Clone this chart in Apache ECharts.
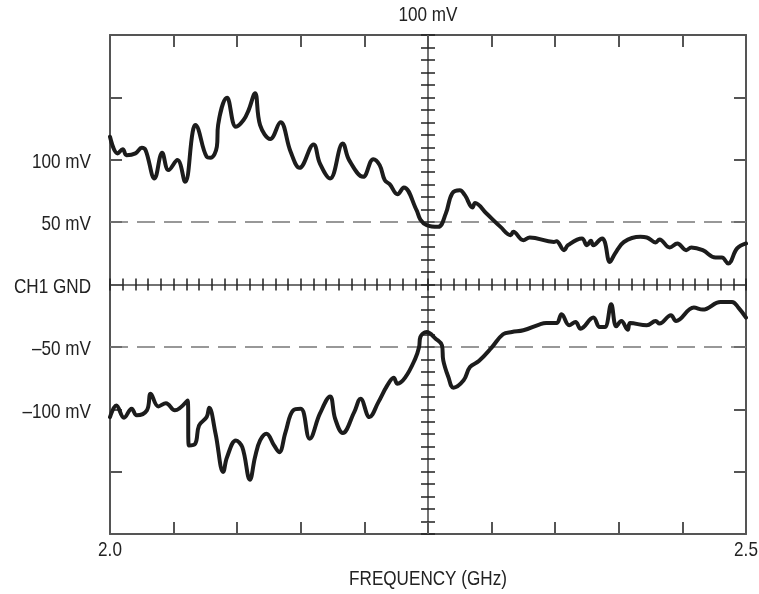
<!DOCTYPE html>
<html>
<head>
<meta charset="utf-8">
<script src="https://cdn.jsdelivr.net/npm/echarts@6/dist/echarts.min.js"></script>
<style>
html,body{margin:0;padding:0;background:#fff;}
#chart{width:759px;height:594px;}
</style>
</head>
<body>
<div id="chart"></div>
<script>
// Upper trace (CH1, positive half)
const upperFreq = [2.000, 2.006, 2.010, 2.013, 2.020, 2.025, 2.028, 2.035, 2.041, 2.046, 2.053, 2.059, 2.065, 2.067, 2.076, 2.079, 2.084, 2.085, 2.092, 2.099, 2.105, 2.109, 2.114, 2.118, 2.126, 2.134, 2.142, 2.149, 2.160, 2.165, 2.173, 2.183, 2.188, 2.199, 2.207, 2.212, 2.216, 2.220, 2.226, 2.231, 2.241, 2.244, 2.249, 2.258, 2.264, 2.269, 2.275, 2.279, 2.285, 2.287, 2.296, 2.307, 2.315, 2.317, 2.325, 2.330, 2.349, 2.351, 2.357, 2.360, 2.371, 2.375, 2.378, 2.380, 2.387, 2.389, 2.393, 2.397, 2.404, 2.417, 2.422, 2.429, 2.432, 2.440, 2.446, 2.453, 2.457, 2.466, 2.476, 2.481, 2.486, 2.493, 2.500];
const upperMv = [118.4, 105.1, 108.5, 103.7, 105.1, 109.6, 107.7, 85.0, 105.6, 91.7, 99.7, 82.3, 122.4, 127.8, 102.4, 101.6, 110.4, 127.8, 149.7, 126.4, 131.8, 139.8, 153.3, 127.8, 116.6, 130.0, 106.4, 93.5, 112.3, 97.1, 85.0, 113.1, 99.7, 86.3, 100.5, 95.7, 83.7, 80.2, 72.4, 77.8, 59.6, 52.1, 47.6, 46.2, 56.9, 73.0, 75.6, 71.6, 61.8, 65.4, 56.9, 46.2, 39.5, 42.2, 35.5, 37.7, 34.1, 34.7, 27.5, 31.5, 36.9, 31.5, 35.0, 31.5, 36.9, 34.1, 18.1, 24.8, 34.1, 38.2, 37.7, 33.7, 36.1, 29.7, 32.9, 27.5, 29.7, 27.5, 21.6, 21.6, 16.8, 28.9, 32.9];

// Lower trace (CH1, negative half)
const lowerFreq = [2.000, 2.005, 2.011, 2.017, 2.021, 2.029, 2.032, 2.038, 2.044, 2.051, 2.061, 2.062, 2.067, 2.070, 2.076, 2.078, 2.083, 2.089, 2.092, 2.099, 2.104, 2.110, 2.114, 2.118, 2.123, 2.129, 2.133, 2.138, 2.144, 2.150, 2.157, 2.165, 2.173, 2.177, 2.183, 2.192, 2.197, 2.204, 2.211, 2.218, 2.223, 2.226, 2.232, 2.240, 2.243, 2.244, 2.249, 2.256, 2.261, 2.262, 2.266, 2.270, 2.278, 2.283, 2.290, 2.300, 2.309, 2.316, 2.325, 2.338, 2.343, 2.351, 2.355, 2.361, 2.366, 2.370, 2.380, 2.385, 2.389, 2.394, 2.398, 2.402, 2.407, 2.409, 2.422, 2.429, 2.432, 2.441, 2.445, 2.459, 2.466, 2.480, 2.489, 2.494, 2.500];
const lowerMv = [-106.3, -96.9, -106.8, -99.6, -104.9, -100.9, -87.5, -97.7, -95.1, -100.9, -92.9, -129.0, -127.6, -113.0, -106.3, -98.8, -119.6, -150.4, -138.4, -125.0, -130.4, -156.5, -138.4, -125.0, -119.6, -129.0, -134.4, -118.3, -100.9, -99.6, -123.6, -103.6, -89.7, -107.6, -119.1, -102.3, -91.5, -106.3, -94.3, -80.9, -74.7, -79.5, -74.7, -59.4, -50.1, -42.1, -38.1, -43.4, -48.8, -60.8, -74.2, -82.7, -76.8, -66.2, -61.4, -50.6, -39.9, -38.1, -36.7, -31.9, -30.9, -30.9, -23.9, -32.7, -30.1, -35.4, -26.5, -34.1, -34.1, -15.9, -33.5, -29.3, -36.2, -30.9, -32.7, -29.3, -31.3, -24.7, -29.3, -18.5, -20.1, -14.0, -14.0, -18.5, -26.5];

// Axis ticks and labels
const xTickValues = [2.0, 2.5];
const xTickLabels = ['2.0', '2.5'];
const yTickValues = [100, 50, 0, -50, -100];
const yTickLabels = ['100 mV', '50 mV', 'CH1 GND', '\u201350 mV', '\u2013100 mV'];
const refLevels = [50, -50];
const topLabel = '100 mV';
const xTitle = 'FREQUENCY (GHz)';

const FONT_FAMILY = '"Liberation Sans", Arial, sans-serif';
const FONT = '21px ' + FONT_FAMILY;
const NARROW = 0.815;   // horizontal condensing of the label font
const TEXT_COLOR = '#222';
const FRAME = '#555';

const chart = echarts.init(document.getElementById('chart'), null, {renderer: 'canvas'});

const frameX = (pos) => ({
  type: 'value', position: pos, min: 2.0, max: 2.5, interval: 0.05,
  axisLine: {show: true, onZero: false, lineStyle: {color: FRAME, width: 2}},
  axisTick: {show: true, inside: true, length: 12, lineStyle: {color: FRAME, width: 2}},
  splitLine: {show: false},
  axisLabel: {show: false}
});

const frameY = (pos) => ({
  type: 'value', position: pos, min: -200, max: 200, interval: 50,
  axisLine: {show: true, onZero: false, lineStyle: {color: FRAME, width: 2}},
  axisTick: {show: true, inside: true, length: 12, lineStyle: {color: FRAME, width: 2}},
  splitLine: {show: false},
  axisLabel: {show: false}
});

const centerX = (inside, showLine) => ({
  type: 'value', position: 'bottom', min: 2.0, max: 2.5, interval: 0.01,
  axisLine: {show: showLine, onZero: true, onZeroAxisIndex: 0, lineStyle: {color: '#444', width: 1.5}},
  axisTick: {show: true, inside: inside, length: 6, lineStyle: {color: '#222', width: 1.5}},
  splitLine: {show: false},
  axisLabel: {show: false}
});

const centerY = (inside, showLine) => ({
  type: 'value', position: 'left', offset: -318, min: -200, max: 200, interval: 10,
  axisLine: {show: showLine, onZero: false, lineStyle: {color: '#444', width: 1.5}},
  axisTick: {show: true, inside: inside, length: 7, lineStyle: {color: '#222', width: 1.5}},
  splitLine: {show: false},
  axisLabel: {show: false}
});

const option = {
  backgroundColor: '#fff',
  animation: false,
  grid: {left: 110, right: 13, top: 35, bottom: 60, containLabel: false},
  xAxis: [frameX('bottom'), frameX('top'), centerX(true, true), centerX(false, false)],
  yAxis: [frameY('left'), frameY('right'), centerY(true, true), centerY(false, false)],
  series: [
    {
      type: 'line', name: 'upper', xAxisIndex: 0, yAxisIndex: 0,
      data: upperFreq.map((f, i) => [f, upperMv[i]]),
      showSymbol: false, smooth: 0.4, z: 5,
      lineStyle: {color: '#1c1c1c', width: 4, join: 'round', cap: 'round'},
      markLine: {
        silent: true, symbol: ['none', 'none'], label: {show: false},
        lineStyle: {color: '#777', width: 1.5, type: [18, 9]},
        data: refLevels.map(v => ({yAxis: v}))
      }
    },
    {
      type: 'line', name: 'lower', xAxisIndex: 0, yAxisIndex: 0,
      data: lowerFreq.map((f, i) => [f, lowerMv[i]]),
      showSymbol: false, smooth: 0.4, z: 5,
      lineStyle: {color: '#1c1c1c', width: 4, join: 'round', cap: 'round'}
    }
  ]
};
chart.setOption(option);

// Condensed text labels placed from the axis scales
function label(text, x, y, align) {
  return {
    type: 'text', x: x, y: y, scaleX: NARROW, scaleY: 1, silent: true, z: 10,
    style: {text: text, x: 0, y: 0, font: FONT, fill: TEXT_COLOR,
            align: align, verticalAlign: 'middle', textAlign: align, textVerticalAlign: 'middle'}
  };
}
const rect = {left: 110, right: 746, top: 35, bottom: 534};
const graphics = [];
yTickValues.forEach((v, i) => {
  const py = chart.convertToPixel({yAxisIndex: 0}, v);
  graphics.push(label(yTickLabels[i], rect.left - 19, py + 2.5, 'right'));
});
xTickValues.forEach((v, i) => {
  const px = chart.convertToPixel({xAxisIndex: 0}, v);
  graphics.push(label(xTickLabels[i], px, rect.bottom + 16, 'center'));
});
const midX = chart.convertToPixel({xAxisIndex: 0}, 2.25);
graphics.push(label(xTitle, midX, rect.bottom + 45, 'center'));
graphics.push(label(topLabel, midX, 15, 'center'));
chart.setOption({graphic: graphics});
</script>
</body>
</html>
